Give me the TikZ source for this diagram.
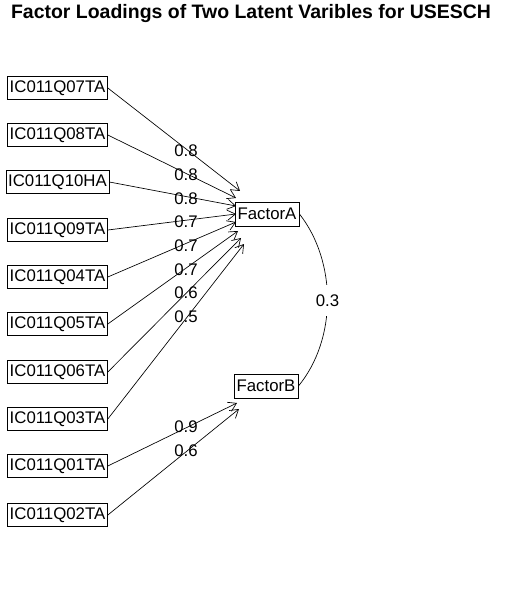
\documentclass[tikz,border=0pt]{standalone}
\usepackage{fontspec}
\setmainfont{Liberation Sans}
\usetikzlibrary{arrows.meta}
\begin{document}
\begin{tikzpicture}[x=0.75pt,y=-0.75pt,
  varbox/.style={draw,line width=0.6pt,inner xsep=1.6pt,inner ysep=0pt,minimum height=17.5pt,font=\fontsize{12.6}{14}\selectfont},
  facbox/.style={draw,line width=0.6pt,inner xsep=2pt,inner ysep=0pt,minimum height=18pt,font=\fontsize{12.6}{14}\selectfont},
  load/.style={font=\fontsize{12.6}{14}\selectfont,inner sep=0pt},
  loadarrow/.style={line width=0.5pt,-{Straight Barb[length=6pt,width=7.5pt,line width=0.5pt]}}
]
\useasboundingbox (0,0) rectangle (505,591);
\node[font=\bfseries\fontsize{14.6}{17}\selectfont] (title) at (251,14) {Factor Loadings of Two Latent Varibles for USESCH};

\node[varbox] (v1) at (57.5,88) {IC011Q07TA};
\node[varbox] (v2) at (57.5,135) {IC011Q08TA};
\node[varbox] (v3) at (57.5,182) {IC011Q10HA};
\node[varbox] (v4) at (57.5,230) {IC011Q09TA};
\node[varbox] (v5) at (57.5,277) {IC011Q04TA};
\node[varbox] (v6) at (57.5,324) {IC011Q05TA};
\node[varbox] (v7) at (57.5,372) {IC011Q06TA};
\node[varbox] (v8) at (57.5,419) {IC011Q03TA};
\node[varbox] (v9) at (57.5,466) {IC011Q01TA};
\node[varbox] (v10) at (57.5,515) {IC011Q02TA};

\node[facbox] (FA) at (267,214) {FactorA};
\node[facbox] (FB) at (266,386) {FactorB};

\coordinate (a1) at (240,191);
\coordinate (a2) at (236,198);
\coordinate (a3) at (236,206);
\coordinate (a4) at (236,214);
\coordinate (a5) at (236,222);
\coordinate (a6) at (238,231);
\coordinate (a7) at (241,238);
\coordinate (a8) at (244,244);
\coordinate (b1) at (237,403);
\coordinate (b2) at (239,409);

\draw[loadarrow] (v1.east) -- (a1);
\draw[loadarrow] (v2.east) -- (a2);
\draw[loadarrow] (v3.east) -- (a3);
\draw[loadarrow] (v4.east) -- (a4);
\draw[loadarrow] (v5.east) -- (a5);
\draw[loadarrow] (v6.east) -- (a6);
\draw[loadarrow] (v7.east) -- (a7);
\draw[loadarrow] (v8.east) -- (a8);
\draw[loadarrow] (v9.east) -- (b1);
\draw[loadarrow] (v10.east) -- (b2);

\node[load] (l1) at (186,151) {0.8};
\node[load] (l2) at (186,175) {0.8};
\node[load] (l3) at (186,199) {0.8};
\node[load] (l4) at (186,222) {0.7};
\node[load] (l5) at (186,246) {0.7};
\node[load] (l6) at (186,270) {0.7};
\node[load] (l7) at (186,293) {0.6};
\node[load] (l8) at (186,317) {0.5};
\node[load] (l9) at (186,427) {0.9};
\node[load] (l10) at (186,451) {0.6};

\draw[line width=0.5pt] (FA.east) .. controls (337,262) and (337,339) .. (FB.east)
  node[pos=0.5,fill=white,inner xsep=1pt,inner ysep=7pt,font=\fontsize{12.6}{14}\selectfont] (r) {0.3};
\end{tikzpicture}
\end{document}
